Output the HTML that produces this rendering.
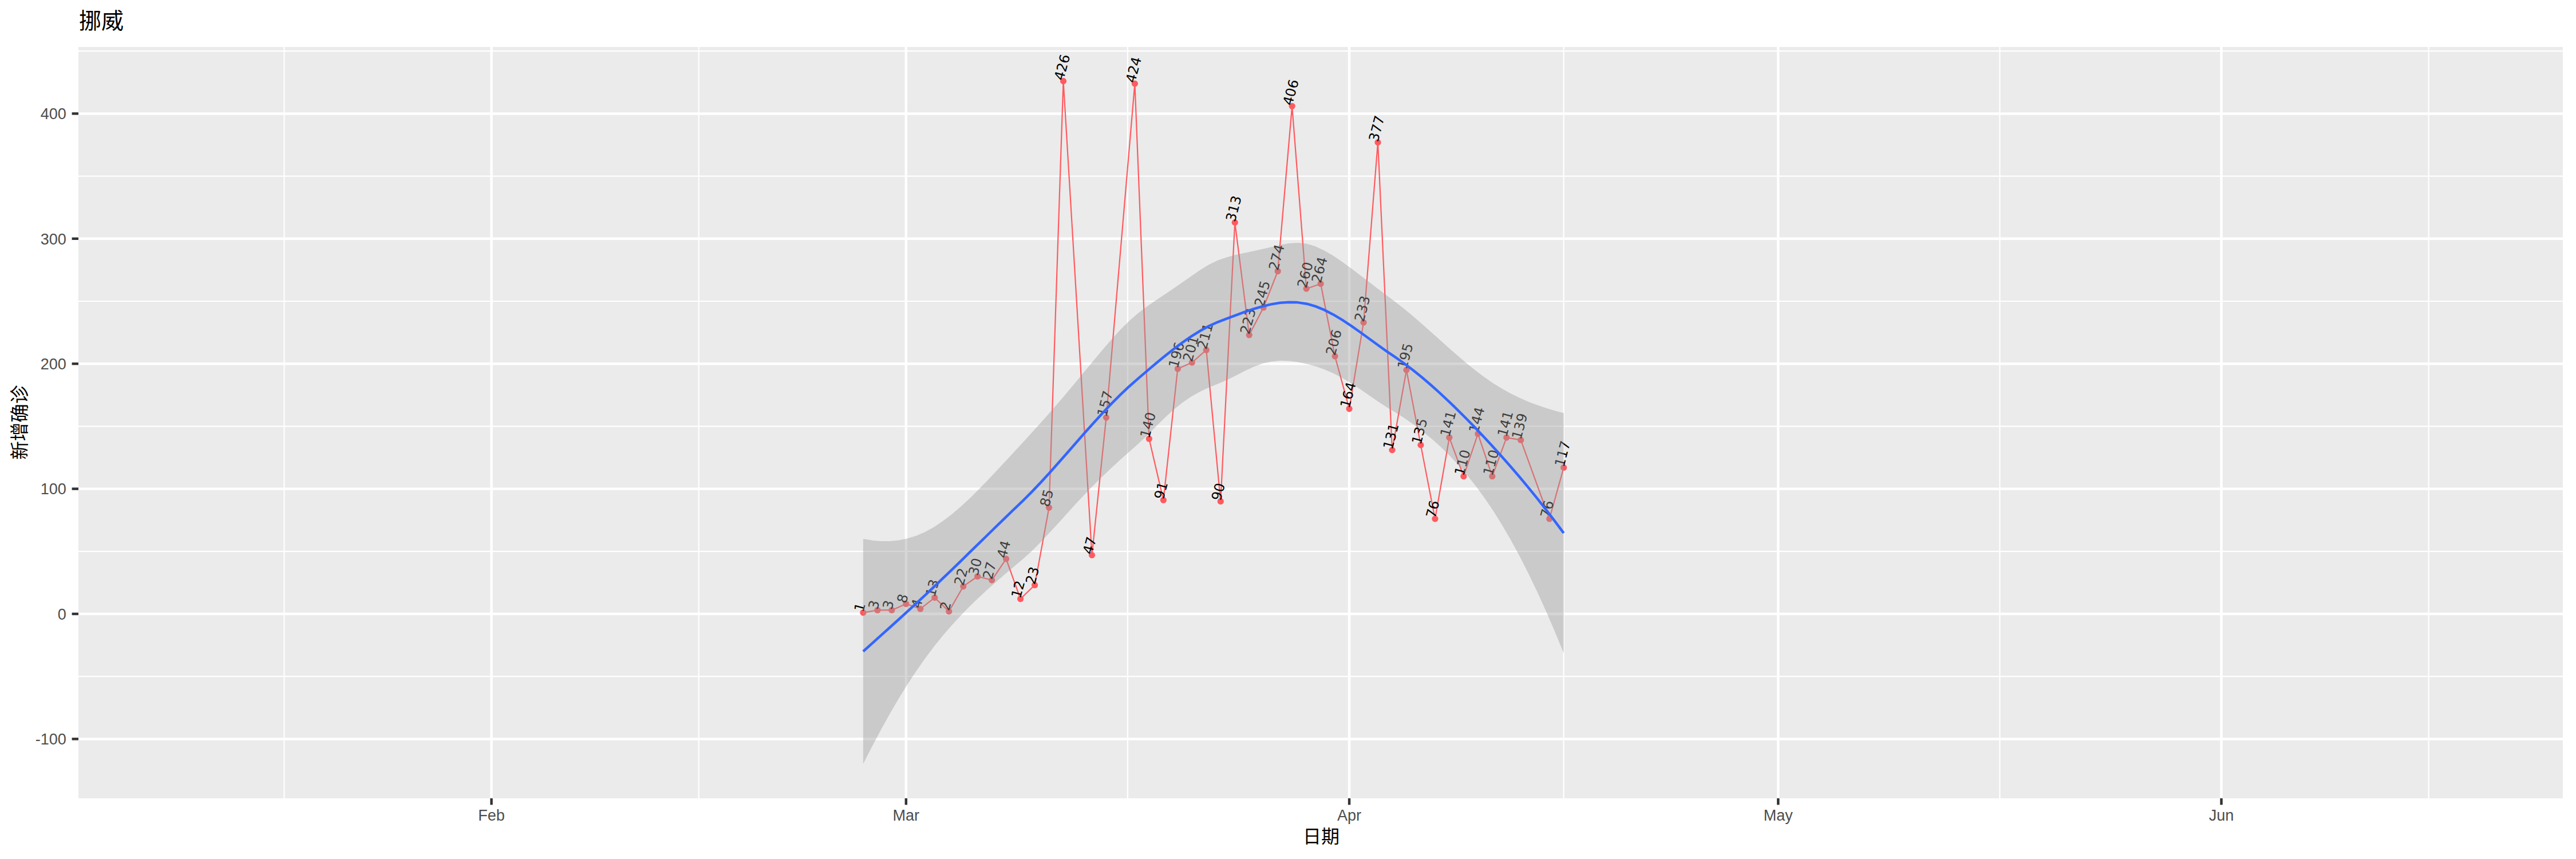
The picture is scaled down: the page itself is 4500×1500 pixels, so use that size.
<!DOCTYPE html>
<html lang="zh"><head><meta charset="utf-8"><title>挪威 新增确诊</title>
<style>html,body{margin:0;padding:0;background:#fff}svg{display:block}.ax{font-family:"Liberation Sans","Noto Sans CJK SC",sans-serif;font-size:27px;fill:#4D4D4D}.cj{font-family:"Liberation Sans","Noto Sans CJK SC",sans-serif;fill:#000}.lb{font-family:"DejaVu Sans","Liberation Sans",sans-serif;font-size:23.85px;fill:#000}</style></head><body>
<svg width="4500" height="1500" viewBox="0 0 4500 1500">
<rect width="4500" height="1500" fill="#fff"/>
<defs><clipPath id="pc"><rect x="137" y="82" width="4340" height="1312"/></clipPath></defs>
<rect x="137" y="82" width="4340" height="1312" fill="#EBEBEB"/>
<g clip-path="url(#pc)">
<g stroke="#fff" stroke-width="2.2" fill="none">
<line x1="137" x2="4477" y1="1181.2" y2="1181.2"/>
<line x1="137" x2="4477" y1="962.8" y2="962.8"/>
<line x1="137" x2="4477" y1="744.4" y2="744.4"/>
<line x1="137" x2="4477" y1="526" y2="526"/>
<line x1="137" x2="4477" y1="307.6" y2="307.6"/>
<line x1="137" x2="4477" y1="89.2" y2="89.2"/>
<line y1="82" y2="1394" x1="496.39" x2="496.39"/>
<line y1="82" y2="1394" x1="1220.66" x2="1220.66"/>
<line y1="82" y2="1394" x1="1969.91" x2="1969.91"/>
<line y1="82" y2="1394" x1="2731.65" x2="2731.65"/>
<line y1="82" y2="1394" x1="3493.39" x2="3493.39"/>
<line y1="82" y2="1394" x1="4242.64" x2="4242.64"/>
</g><g stroke="#fff" stroke-width="4.45" fill="none">
<line x1="137" x2="4477" y1="1290.4" y2="1290.4"/>
<line x1="137" x2="4477" y1="1072" y2="1072"/>
<line x1="137" x2="4477" y1="853.6" y2="853.6"/>
<line x1="137" x2="4477" y1="635.2" y2="635.2"/>
<line x1="137" x2="4477" y1="416.8" y2="416.8"/>
<line x1="137" x2="4477" y1="198.4" y2="198.4"/>
<line y1="82" y2="1394" x1="858.52" x2="858.52"/>
<line y1="82" y2="1394" x1="1582.8" x2="1582.8"/>
<line y1="82" y2="1394" x1="2357.03" x2="2357.03"/>
<line y1="82" y2="1394" x1="3106.28" x2="3106.28"/>
<line y1="82" y2="1394" x1="3880.5" x2="3880.5"/>
</g>
<polyline points="1507.88,1069.82 1532.85,1065.45 1557.83,1065.45 1582.8,1054.53 1607.77,1063.26 1632.75,1043.61 1657.72,1067.63 1682.7,1023.95 1707.67,1006.48 1732.65,1013.03 1757.62,975.9 1782.6,1045.79 1807.58,1021.77 1832.55,886.36 1857.53,141.62 1907.47,969.35 1932.45,729.11 1982.4,145.98 2007.38,766.24 2032.35,873.26 2057.32,643.94 2082.3,633.02 2107.28,611.18 2132.25,875.44 2157.22,388.41 2182.2,584.97 2207.18,536.92 2232.15,473.58 2257.12,185.3 2282.1,504.16 2307.07,495.42 2332.05,622.1 2357.03,713.82 2382,563.13 2406.97,248.63 2431.95,785.9 2456.93,646.12 2481.9,777.16 2506.88,906.02 2531.85,764.06 2556.82,831.76 2581.8,757.5 2606.78,831.76 2631.75,764.06 2656.72,768.42 2706.68,906.02 2731.65,816.47" fill="none" stroke="#FF5A5F" stroke-width="2.2" stroke-linejoin="round" stroke-linecap="butt"/>
<g fill="#FF5A5F">
<circle cx="1507.88" cy="1069.82" r="5.6"/>
<circle cx="1532.85" cy="1065.45" r="5.6"/>
<circle cx="1557.83" cy="1065.45" r="5.6"/>
<circle cx="1582.8" cy="1054.53" r="5.6"/>
<circle cx="1607.77" cy="1063.26" r="5.6"/>
<circle cx="1632.75" cy="1043.61" r="5.6"/>
<circle cx="1657.72" cy="1067.63" r="5.6"/>
<circle cx="1682.7" cy="1023.95" r="5.6"/>
<circle cx="1707.67" cy="1006.48" r="5.6"/>
<circle cx="1732.65" cy="1013.03" r="5.6"/>
<circle cx="1757.62" cy="975.9" r="5.6"/>
<circle cx="1782.6" cy="1045.79" r="5.6"/>
<circle cx="1807.58" cy="1021.77" r="5.6"/>
<circle cx="1832.55" cy="886.36" r="5.6"/>
<circle cx="1857.53" cy="141.62" r="5.6"/>
<circle cx="1907.47" cy="969.35" r="5.6"/>
<circle cx="1932.45" cy="729.11" r="5.6"/>
<circle cx="1982.4" cy="145.98" r="5.6"/>
<circle cx="2007.38" cy="766.24" r="5.6"/>
<circle cx="2032.35" cy="873.26" r="5.6"/>
<circle cx="2057.32" cy="643.94" r="5.6"/>
<circle cx="2082.3" cy="633.02" r="5.6"/>
<circle cx="2107.28" cy="611.18" r="5.6"/>
<circle cx="2132.25" cy="875.44" r="5.6"/>
<circle cx="2157.22" cy="388.41" r="5.6"/>
<circle cx="2182.2" cy="584.97" r="5.6"/>
<circle cx="2207.18" cy="536.92" r="5.6"/>
<circle cx="2232.15" cy="473.58" r="5.6"/>
<circle cx="2257.12" cy="185.3" r="5.6"/>
<circle cx="2282.1" cy="504.16" r="5.6"/>
<circle cx="2307.07" cy="495.42" r="5.6"/>
<circle cx="2332.05" cy="622.1" r="5.6"/>
<circle cx="2357.03" cy="713.82" r="5.6"/>
<circle cx="2382" cy="563.13" r="5.6"/>
<circle cx="2406.97" cy="248.63" r="5.6"/>
<circle cx="2431.95" cy="785.9" r="5.6"/>
<circle cx="2456.93" cy="646.12" r="5.6"/>
<circle cx="2481.9" cy="777.16" r="5.6"/>
<circle cx="2506.88" cy="906.02" r="5.6"/>
<circle cx="2531.85" cy="764.06" r="5.6"/>
<circle cx="2556.82" cy="831.76" r="5.6"/>
<circle cx="2581.8" cy="757.5" r="5.6"/>
<circle cx="2606.78" cy="831.76" r="5.6"/>
<circle cx="2631.75" cy="764.06" r="5.6"/>
<circle cx="2656.72" cy="768.42" r="5.6"/>
<circle cx="2706.68" cy="906.02" r="5.6"/>
<circle cx="2731.65" cy="816.47" r="5.6"/>
</g><g class="lb">
<text transform="translate(1507.88 1069.82) rotate(-75)">1</text>
<text transform="translate(1532.85 1065.45) rotate(-75)">3</text>
<text transform="translate(1557.83 1065.45) rotate(-75)">3</text>
<text transform="translate(1582.8 1054.53) rotate(-75)">8</text>
<text transform="translate(1607.77 1063.26) rotate(-75)">4</text>
<text transform="translate(1632.75 1043.61) rotate(-75)">13</text>
<text transform="translate(1657.72 1067.63) rotate(-75)">2</text>
<text transform="translate(1682.7 1023.95) rotate(-75)">22</text>
<text transform="translate(1707.67 1006.48) rotate(-75)">30</text>
<text transform="translate(1732.65 1013.03) rotate(-75)">27</text>
<text transform="translate(1757.62 975.9) rotate(-75)">44</text>
<text transform="translate(1782.6 1045.79) rotate(-75)">12</text>
<text transform="translate(1807.58 1021.77) rotate(-75)">23</text>
<text transform="translate(1832.55 886.36) rotate(-75)">85</text>
<text transform="translate(1857.53 141.62) rotate(-75)">426</text>
<text transform="translate(1907.47 969.35) rotate(-75)">47</text>
<text transform="translate(1932.45 729.11) rotate(-75)">157</text>
<text transform="translate(1982.4 145.98) rotate(-75)">424</text>
<text transform="translate(2007.38 766.24) rotate(-75)">140</text>
<text transform="translate(2032.35 873.26) rotate(-75)">91</text>
<text transform="translate(2057.32 643.94) rotate(-75)">196</text>
<text transform="translate(2082.3 633.02) rotate(-75)">201</text>
<text transform="translate(2107.28 611.18) rotate(-75)">211</text>
<text transform="translate(2132.25 875.44) rotate(-75)">90</text>
<text transform="translate(2157.22 388.41) rotate(-75)">313</text>
<text transform="translate(2182.2 584.97) rotate(-75)">223</text>
<text transform="translate(2207.18 536.92) rotate(-75)">245</text>
<text transform="translate(2232.15 473.58) rotate(-75)">274</text>
<text transform="translate(2257.12 185.3) rotate(-75)">406</text>
<text transform="translate(2282.1 504.16) rotate(-75)">260</text>
<text transform="translate(2307.07 495.42) rotate(-75)">264</text>
<text transform="translate(2332.05 622.1) rotate(-75)">206</text>
<text transform="translate(2357.03 713.82) rotate(-75)">164</text>
<text transform="translate(2382 563.13) rotate(-75)">233</text>
<text transform="translate(2406.97 248.63) rotate(-75)">377</text>
<text transform="translate(2431.95 785.9) rotate(-75)">131</text>
<text transform="translate(2456.93 646.12) rotate(-75)">195</text>
<text transform="translate(2481.9 777.16) rotate(-75)">135</text>
<text transform="translate(2506.88 906.02) rotate(-75)">76</text>
<text transform="translate(2531.85 764.06) rotate(-75)">141</text>
<text transform="translate(2556.82 831.76) rotate(-75)">110</text>
<text transform="translate(2581.8 757.5) rotate(-75)">144</text>
<text transform="translate(2606.78 831.76) rotate(-75)">110</text>
<text transform="translate(2631.75 764.06) rotate(-75)">141</text>
<text transform="translate(2656.72 768.42) rotate(-75)">139</text>
<text transform="translate(2706.68 906.02) rotate(-75)">76</text>
<text transform="translate(2731.65 816.47) rotate(-75)">117</text>
</g>
<polygon points="1507.88,940.94 1523.37,943.6 1538.86,945 1554.35,945 1569.84,943.49 1585.33,940.34 1600.82,935.43 1616.31,928.71 1631.8,920.16 1647.29,909.85 1662.78,897.98 1678.27,884.75 1693.76,870.38 1709.26,855.12 1724.75,839.19 1740.24,822.81 1755.73,806.17 1771.22,789.44 1786.71,772.75 1802.2,755.87 1817.69,738.72 1833.18,721.28 1848.67,703.49 1864.16,685.33 1879.65,666.81 1895.15,648.04 1910.64,629.23 1926.13,610.66 1941.62,592.72 1957.11,575.83 1972.6,560.47 1988.09,547.04 2003.58,535.25 2019.07,524.48 2034.56,514.15 2050.05,503.76 2065.54,493.08 2081.04,482.21 2096.53,471.61 2112.02,462.04 2127.51,454.41 2143,449.15 2158.49,445.12 2173.98,441.73 2189.47,438.49 2204.96,435.05 2220.45,431.38 2235.94,427.8 2251.43,425 2266.93,423.9 2282.42,425.48 2297.91,430.2 2313.4,437.45 2328.89,446.6 2344.38,457.05 2359.87,468.31 2375.36,479.99 2390.85,491.83 2406.34,503.67 2421.83,515.42 2437.32,527.02 2452.82,539.19 2468.31,552.03 2483.8,565.41 2499.29,579.15 2514.78,593.06 2530.27,606.95 2545.76,620.6 2561.25,633.79 2576.74,646.32 2592.23,657.99 2607.72,668.68 2623.21,678.33 2638.71,686.97 2654.2,694.62 2669.69,701.38 2685.18,707.33 2700.67,712.56 2716.16,717.17 2731.65,721.25 2731.65,1140.48 2716.16,1102.94 2700.67,1067.12 2685.18,1033.08 2669.69,1000.86 2654.2,970.49 2638.71,942.02 2623.21,915.46 2607.72,890.82 2592.23,868.05 2576.74,847.04 2561.25,827.71 2545.76,809.93 2530.27,793.6 2514.78,778.61 2499.29,764.83 2483.8,752.16 2468.31,740.51 2452.82,729.82 2437.32,720.02 2421.83,710.65 2406.34,700.42 2390.85,689.72 2375.36,679.08 2359.87,668.96 2344.38,659.76 2328.89,651.71 2313.4,644.95 2297.91,639.51 2282.42,635.4 2266.93,632.33 2251.43,630.32 2235.94,629.86 2220.45,631.38 2204.96,635.08 2189.47,640.83 2173.98,648.09 2158.49,656.04 2143,663.7 2127.51,670.17 2112.02,676.56 2096.53,683.84 2081.04,692.55 2065.54,703.1 2050.05,715.59 2034.56,729.77 2019.07,745.03 2003.58,760.53 1988.09,775.32 1972.6,788.97 1957.11,802.78 1941.62,817.01 1926.13,831.76 1910.64,847.1 1895.15,863.07 1879.65,879.6 1864.16,896.54 1848.67,913.65 1833.18,930.59 1817.69,946.97 1802.2,962.39 1786.71,976.47 1771.22,989.44 1755.73,1002.57 1740.24,1015.98 1724.75,1029.78 1709.26,1044.1 1693.76,1059.08 1678.27,1074.88 1662.78,1091.67 1647.29,1109.6 1631.8,1128.82 1616.31,1149.41 1600.82,1171.46 1585.33,1195 1569.84,1220.04 1554.35,1246.53 1538.86,1274.4 1523.37,1303.6 1507.88,1334.04" fill="#999999" fill-opacity="0.4"/>
<polyline points="1507.88,1137.49 1523.37,1123.6 1538.86,1109.7 1554.35,1095.77 1569.84,1081.77 1585.33,1067.67 1600.82,1053.45 1616.31,1039.06 1631.8,1024.49 1647.29,1009.73 1662.78,994.82 1678.27,979.81 1693.76,964.73 1709.26,949.61 1724.75,934.49 1740.24,919.39 1755.73,904.37 1771.22,889.44 1786.71,874.61 1802.2,859.13 1817.69,842.84 1833.18,825.93 1848.67,808.57 1864.16,790.94 1879.65,773.2 1895.15,755.56 1910.64,738.16 1926.13,721.21 1941.62,704.86 1957.11,689.31 1972.6,674.72 1988.09,661.18 2003.58,647.89 2019.07,634.75 2034.56,621.96 2050.05,609.68 2065.54,598.09 2081.04,587.38 2096.53,577.72 2112.02,569.3 2127.51,562.29 2143,556.42 2158.49,550.58 2173.98,544.91 2189.47,539.66 2204.96,535.07 2220.45,531.38 2235.94,528.83 2251.43,527.66 2266.93,528.12 2282.42,530.44 2297.91,534.85 2313.4,541.2 2328.89,549.15 2344.38,558.4 2359.87,568.64 2375.36,579.53 2390.85,590.78 2406.34,602.05 2421.83,613.04 2437.32,623.52 2452.82,634.5 2468.31,646.27 2483.8,658.78 2499.29,671.99 2514.78,685.83 2530.27,700.28 2545.76,715.26 2561.25,730.75 2576.74,746.68 2592.23,763.02 2607.72,779.75 2623.21,796.9 2638.71,814.49 2654.2,832.56 2669.69,851.12 2685.18,870.2 2700.67,889.84 2716.16,910.05 2731.65,930.87" fill="none" stroke="#3366FF" stroke-width="4.5" stroke-linejoin="round" stroke-linecap="butt"/>
</g>
<g stroke="#333333" stroke-width="4.45">
<line x1="125.6" x2="137" y1="1290.4" y2="1290.4"/>
<line x1="125.6" x2="137" y1="1072" y2="1072"/>
<line x1="125.6" x2="137" y1="853.6" y2="853.6"/>
<line x1="125.6" x2="137" y1="635.2" y2="635.2"/>
<line x1="125.6" x2="137" y1="416.8" y2="416.8"/>
<line x1="125.6" x2="137" y1="198.4" y2="198.4"/>
<line y1="1394" y2="1405.4" x1="858.52" x2="858.52"/>
<line y1="1394" y2="1405.4" x1="1582.8" x2="1582.8"/>
<line y1="1394" y2="1405.4" x1="2357.03" x2="2357.03"/>
<line y1="1394" y2="1405.4" x1="3106.28" x2="3106.28"/>
<line y1="1394" y2="1405.4" x1="3880.5" x2="3880.5"/>
</g>
<g class="ax" text-anchor="end">
<text x="115.7" y="1300.1">-100</text>
<text x="115.7" y="1081.7">0</text>
<text x="115.7" y="863.3">100</text>
<text x="115.7" y="644.9">200</text>
<text x="115.7" y="426.5">300</text>
<text x="115.7" y="208.1">400</text>
</g><g class="ax" text-anchor="middle">
<text x="858.52" y="1432.9">Feb</text>
<text x="1582.8" y="1432.9">Mar</text>
<text x="2357.03" y="1432.9">Apr</text>
<text x="3106.28" y="1432.9">May</text>
<text x="3880.5" y="1432.9">Jun</text>
</g>
<text class="cj" x="138" y="50.3" font-size="39">挪威</text>
<text class="cj" x="2307.9" y="1472" font-size="32" text-anchor="middle">日期</text>
<text class="cj" transform="translate(45.8 737.7) rotate(-90)" font-size="32.6" text-anchor="middle">新增确诊</text>
</svg></body></html>
